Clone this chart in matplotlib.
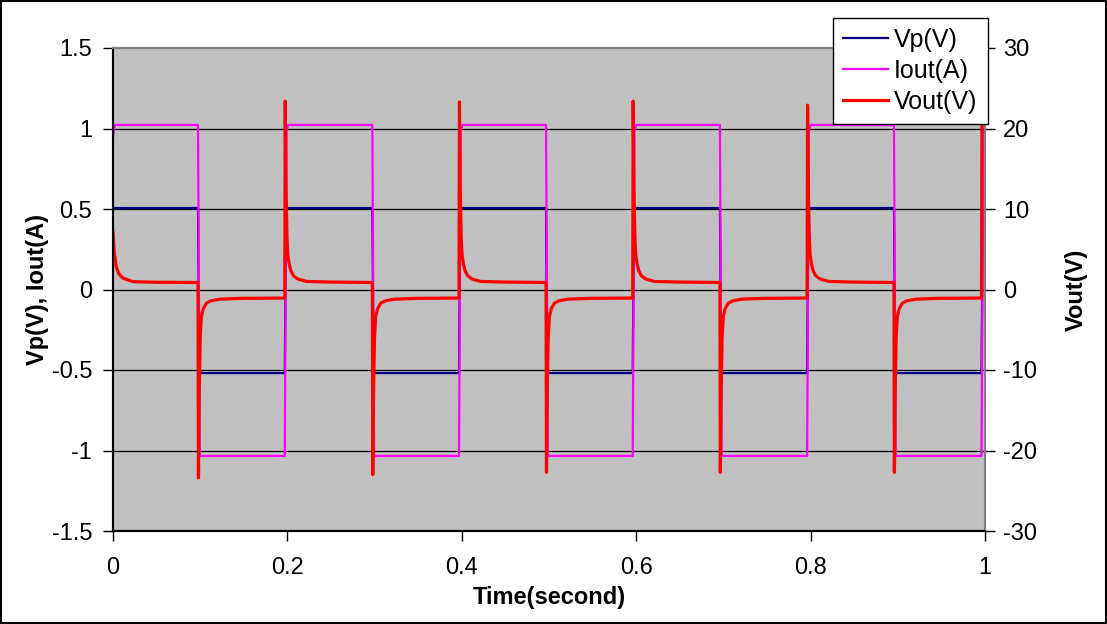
import matplotlib
matplotlib.use("Agg")
import matplotlib.pyplot as plt
import numpy as np

plt.rcParams['font.family'] = ['Liberation Sans', 'DejaVu Sans']
plt.rcParams['axes.unicode_minus'] = False

# ---- data ----
# edge times (s)
fall_t = [0.0975, 0.2974, 0.4966, 0.6960, 0.8956]
rise_t = [0.1970, 0.3968, 0.5960, 0.7960, 0.9960]

# Vp (V) levels and Iout (A) levels
vp_high, vp_low = 0.506, -0.519
iout_high, iout_low = 1.022, -1.034
iout_start = 0.95

# Vout (V) spikes at each edge
vout_pos_spike = [23.4, 23.3, 23.4, 22.9, 21.3]
vout_neg_spike = [-23.4, -23.0, -22.7, -22.7, -22.7]

# Vout decay profile after a rising edge (offset s, value V)
pos_decay_dt = [0.0015, 0.0025, 0.0035, 0.005, 0.007, 0.010, 0.015, 0.025, 0.050]
pos_decay_v = [12.0, 6.5, 4.3, 3.2, 2.3, 1.7, 1.3, 1.0, 0.93]
pos_end_v = 0.87
# Vout decay profile after a falling edge
neg_decay_dt = [0.0015, 0.0025, 0.0038, 0.006, 0.0096, 0.015, 0.025, 0.050]
neg_decay_v = [-12.0, -6.0, -3.4, -2.4, -1.7, -1.4, -1.2, -1.1]
neg_end_v = -1.06
# Vout at the start of the record
start_dt = [0.0, 0.0015, 0.0038, 0.0070, 0.0115, 0.023, 0.050]
start_v = [7.2, 4.5, 2.8, 1.9, 1.4, 0.97, 0.90]

t_end = 1.0

# ---- assemble the traces from the readings ----
vp_t, vp_v, io_t, io_v = [], [], [], []
vp_t += [0.0]; vp_v += [vp_high]
io_t += [0.0, 0.002]; io_v += [iout_start, iout_high]
vo_t = list(start_dt); vo_v = list(start_v)
for i in range(5):
    f = fall_t[i]
    vp_t += [f, f + 0.0015]; vp_v += [vp_high, vp_low]
    io_t += [f, f + 0.002]; io_v += [iout_high, iout_low]
    vo_t += [f, f + 0.0005]; vo_v += [pos_end_v, vout_neg_spike[i]]
    vo_t += [f + d for d in neg_decay_dt]; vo_v += neg_decay_v
    r = rise_t[i]
    vp_t += [r, r + 0.0015]; vp_v += [vp_low, vp_high]
    io_t += [r, r + 0.002, r + 0.004]; io_v += [iout_low, 0.98, iout_high]
    vo_t += [r, r + 0.0005]; vo_v += [neg_end_v, vout_pos_spike[i]]
    if i < 4:
        vo_t += [r + d for d in pos_decay_dt]; vo_v += pos_decay_v
vp_t += [t_end]; vp_v += [vp_high]
io_t += [t_end]; io_v += [iout_high]
vo_t += [t_end]; vo_v += [20.8]

# ---- plot ----
fig = plt.figure(figsize=(11.07, 6.24), dpi=100)
ax = fig.add_axes([113/1107, 1 - 531/624, 872/1107, 483/624])
ax.set_facecolor('#C0C0C0')
ax2 = ax.twinx()

l1, = ax.plot(vp_t, vp_v, color='#000080', lw=1.6, label='Vp(V)')
l2, = ax.plot(io_t, io_v, color='#FF00FF', lw=1.6, label='Iout(A)')
l3, = ax2.plot(vo_t, vo_v, color='#FF0000', lw=2.3, label='Vout(V)')

ax.set_xlim(0, 1)
ax.set_ylim(-1.5, 1.5)
ax2.set_ylim(-30, 30)
ax.set_xticks([0, 0.2, 0.4, 0.6, 0.8, 1.0])
ax.set_xticklabels(['0', '0.2', '0.4', '0.6', '0.8', '1'])
ax.set_yticks([-1.5, -1, -0.5, 0, 0.5, 1, 1.5])
ax.set_yticklabels(['-1.5', '-1', '-0.5', '0', '0.5', '1', '1.5'])
ax2.set_yticks([-30, -20, -10, 0, 10, 20, 30])
ax2.set_yticklabels(['-30', '-20', '-10', '0', '10', '20', '30'])

for y in [-1, -0.5, 0, 0.5, 1]:
    ax.axhline(y, color='black', lw=0.9, zorder=0.5)

fs = 17
ax.tick_params(axis='both', labelsize=fs, length=7, width=1, direction='out', color='black')
ax.tick_params(axis='y', pad=8)
ax.tick_params(axis='x', pad=12)
ax2.tick_params(axis='y', labelsize=fs, length=7, width=1, direction='out', pad=6)

for a in (ax, ax2):
    a.spines['top'].set_color('#808080')
    a.spines['right'].set_color('#808080')
    a.spines['left'].set_color('black')
    a.spines['bottom'].set_color('black')
    for s in a.spines.values():
        s.set_linewidth(1.5)

ax.set_xlabel('Time(second)', fontsize=fs, fontweight='bold', labelpad=5)
ax.set_ylabel('Vp(V), Iout(A)', fontsize=fs, fontweight='bold', labelpad=2)
ax2.set_ylabel('Vout(V)', fontsize=fs, fontweight='bold', labelpad=20)

leg = fig.legend(handles=[l1, l2, l3], loc='upper left',
                 bbox_to_anchor=(833/1107, 1 - 18/624), bbox_transform=fig.transFigure,
                 fontsize=18, frameon=True, fancybox=False, shadow=False,
                 borderpad=0.4, labelspacing=0.28, handlelength=1.8, handletextpad=0.25,
                 borderaxespad=0)
leg.get_frame().set_edgecolor('black')
leg.get_frame().set_linewidth(1.0)
leg.get_frame().set_alpha(1)

fig.patches.append(plt.Rectangle((0.001, 0.002), 0.998, 0.996, transform=fig.transFigure,
                                 fill=False, edgecolor='black', lw=1.5))

fig.savefig('out.png', dpi=100)
